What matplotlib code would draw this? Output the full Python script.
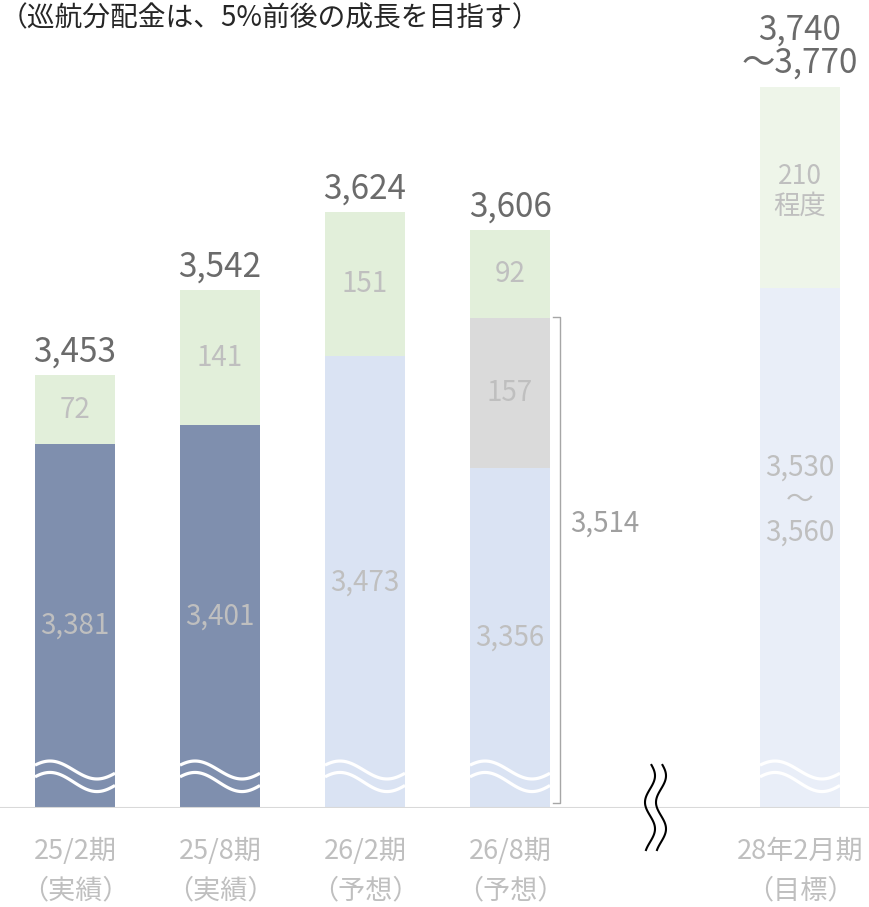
import numpy as np
import matplotlib
matplotlib.use("Agg")
import matplotlib.pyplot as plt

plt.rcParams['font.family'] = ['Noto Sans CJK JP', 'DejaVu Sans']

# data
periods = ["25/2期", "25/8期", "26/2期", "26/8期", "28年2月期"]
kinds = ["（実績）", "（実績）", "（予想）", "（予想）", "（目標）"]
xpos = [0, 1, 2, 3, 5]
base = [3381, 3401, 3473, 3356, 3545]      # last one = midpoint of 3,530~3,560
extra = [0, 0, 0, 157, 0]                  # grey part (26/8)
bonus = [72, 141, 151, 92, 210]
base_labels = ["3,381", "3,401", "3,473", "3,356", "3,530\n～\n3,560"]
bonus_labels = ["72", "141", "151", "92", "210\n程度"]
total_labels = ["3,453", "3,542", "3,624", "3,606", "3,740\n～3,770"]
bracket_value = 3514
bracket_label = "3,514"

base_colors = ["#7F8FAE", "#7F8FAE", "#DAE3F3", "#DAE3F3", "#E9EEF8"]
bonus_colors = ["#E2EFDA", "#E2EFDA", "#E2EFDA", "#E2EFDA", "#EEF5E9"]
grey = "#DADADA"
lbl = "#BFBFBF"

y0 = 3000
px = 1 / 0.955   # data units per pixel
fig = plt.figure(figsize=(8.7, 9.07), dpi=100)
ax = fig.add_axes([0, 99 / 907, 1, 808 / 907])
ax.set_ylim(y0, y0 + 808 * px)
ax.set_xlim(-75 / 145, 795 / 145)
w = 80 / 145

for i, x in enumerate(xpos):
    b = base[i] - y0
    ax.bar(x, b, w, bottom=y0, color=base_colors[i], zorder=2)
    ax.bar(x, extra[i], w, bottom=base[i], color=grey, zorder=2)
    top0 = base[i] + extra[i]
    ax.bar(x, bonus[i], w, bottom=top0, color=bonus_colors[i], zorder=2)
    top = top0 + bonus[i]

    # labels inside
    if i == 4:
        ax.text(x, y0 + 308 * px, base_labels[i], ha="center", va="center", color=lbl,
                fontsize=20, linespacing=1.1, zorder=4)
        ax.text(x, top0 + bonus[i] / 2 - 4 * px, bonus_labels[i], ha="center",
                va="center", color=lbl, fontsize=19, linespacing=1.15, zorder=4)
    else:
        ax.text(x, (y0 + base[i]) / 2, base_labels[i], ha="center", va="center",
                color=lbl, fontsize=20, zorder=4)
        ax.text(x, top0 + bonus[i] / 2, bonus_labels[i], ha="center", va="center",
                color=lbl, fontsize=20, zorder=4)
    if extra[i]:
        ax.text(x, base[i] + extra[i] / 2, str(extra[i]), ha="center", va="center",
                color=lbl, fontsize=20, zorder=4)
    ax.text(x, top + 6 * px, total_labels[i], ha="center", va="bottom", color="#6B6B6B",
            fontsize=24, linespacing=0.95, zorder=4)

    # category labels below the axis (two rows)
    ax.text(x, y0 - 43 * px, periods[i], ha="center", va="center", color=lbl,
            fontsize=19.5, clip_on=False)
    ax.text(x, y0 - 83 * px, kinds[i], ha="center", va="center", color=lbl,
            fontsize=19.5, clip_on=False)

    # white wave break on each bar
    u = np.linspace(0, 1, 100)
    xs = x - w / 2 + u * w
    ph = 2 * np.pi * (u - 15 / 80) * 80 / 94
    ax.plot(xs, y0 + 38 * px + 9.4 * np.cos(ph), color="white", lw=2.3,
            zorder=3, solid_capstyle="butt")
    ax.plot(xs, y0 + 26 * px + 10 * np.cos(ph), color="white", lw=2.3,
            zorder=3, solid_capstyle="butt")

# bracket for 26/8
bx = 3 + (560 - 510) / 145
ax.plot([bx - 7 / 145, bx, bx, bx - 7 / 145],
        [bracket_value, bracket_value, y0 + 5 * px, y0 + 5 * px],
        color="#A6A6A6", lw=1, zorder=3)
ax.text(bx + 10 / 145, y0 + 284 * px, bracket_label, ha="left",
        va="center", color="#A0A0A0", fontsize=20)

# baseline
ax.axhline(y0, color="#D9D9D9", lw=1.5, zorder=5)

# axis break mark
t = np.linspace(0, 1, 100)
yb = y0 + (808 - (765 + 85 * t)) * px
for dx in (0, 11):
    xb = (650 + dx - 75) / 145 + 5 / 145 * np.sin(2 * np.pi * 1.6 * t + 0.3)
    ax.plot(xb, yb, color="black", lw=1.5, clip_on=False, zorder=6)

ax.set_xticks([])
ax.set_yticks([])
for s in ax.spines.values():
    s.set_visible(False)

fig.text(0, 1 - 18 / 907, "（巡航分配金は、5%前後の成長を目指す）", ha="left", va="center",
         fontsize=20, color="#262626")

fig.savefig("out.png", dpi=100)
